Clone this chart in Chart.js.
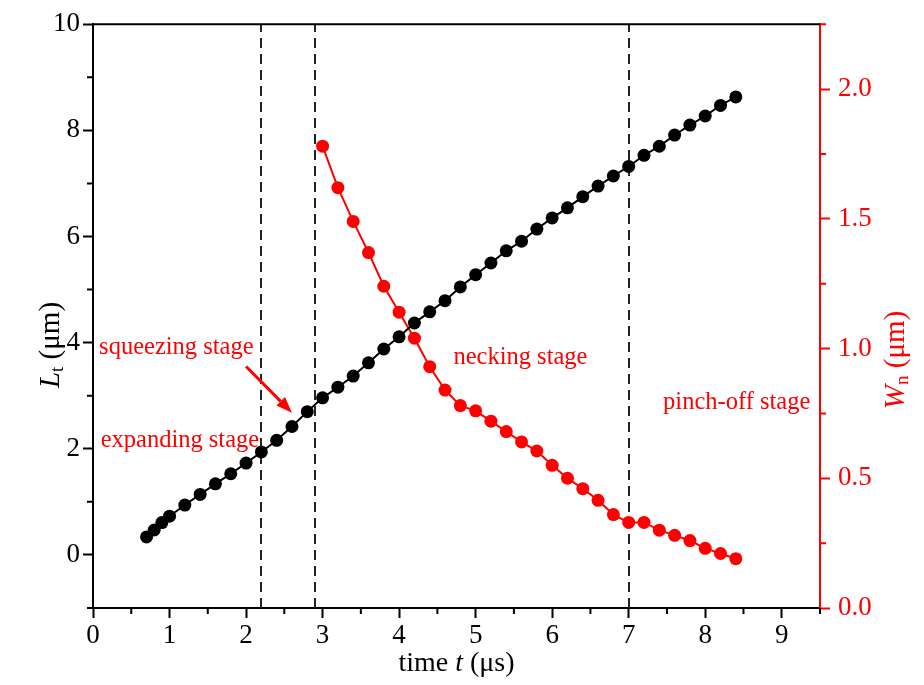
<!DOCTYPE html>
<html>
<head>
<meta charset="utf-8">
<script src="https://cdn.jsdelivr.net/npm/chart.js@4"></script>
<style>
  html, body { margin: 0; padding: 0; background: #fff; }
  #wrap { width: 924px; height: 685px; }
</style>
</head>
<body>
<div id="wrap"><canvas id="chart" width="924" height="685"></canvas></div>
<script>
// time (µs) and thread length L_t (µm)
const timeL = [0.7, 0.8, 0.9, 1.0, 1.2, 1.4, 1.6, 1.8, 2.0, 2.2, 2.4, 2.6, 2.8, 3.0, 3.2, 3.4, 3.6, 3.8,
               4.0, 4.2, 4.4, 4.6, 4.8, 5.0, 5.2, 5.4, 5.6, 5.8, 6.0, 6.2, 6.4, 6.6, 6.8, 7.0, 7.2, 7.4,
               7.6, 7.8, 8.0, 8.2, 8.4];
const lengthL = [0.34, 0.47, 0.61, 0.73, 0.94, 1.14, 1.34, 1.53, 1.73, 1.94, 2.16, 2.42, 2.70, 2.96, 3.16, 3.37, 3.62, 3.88,
                 4.11, 4.37, 4.58, 4.79, 5.05, 5.28, 5.50, 5.73, 5.91, 6.14, 6.35, 6.54, 6.75, 6.95, 7.14, 7.32, 7.53, 7.70,
                 7.91, 8.10, 8.27, 8.47, 8.63];

// time (µs) and neck width W_n (µm)
const timeW = [3.0, 3.2, 3.4, 3.6, 3.8, 4.0, 4.2, 4.4, 4.6, 4.8, 5.0, 5.2, 5.4, 5.6, 5.8, 6.0, 6.2, 6.4,
               6.6, 6.8, 7.0, 7.2, 7.4, 7.6, 7.8, 8.0, 8.2, 8.4];
const widthW = [1.78, 1.62, 1.49, 1.37, 1.24, 1.14, 1.04, 0.93, 0.84, 0.78, 0.76, 0.72, 0.68, 0.64, 0.605, 0.55, 0.50, 0.46,
                0.415, 0.36, 0.33, 0.33, 0.30, 0.28, 0.26, 0.23, 0.21, 0.19];

// axis ticks
const xTicks = [0, 1, 2, 3, 4, 5, 6, 7, 8, 9];
const xMinor = [0.5, 1.5, 2.5, 3.5, 4.5, 5.5, 6.5, 7.5, 8.5, 9.5];
const yLeftTicks = [0, 2, 4, 6, 8, 10];
const yLeftMinor = [-1, 1, 3, 5, 7, 9];
const yRightTicks = [0, 0.5, 1.0, 1.5, 2.0];
const yRightMinor = [0.25, 0.75, 1.25, 1.75, 2.25];

// stage boundaries (µs)
const stageLines = [2.2, 2.9, 7.0];

// stage labels: [text, x (µs), L_t (µm)]
const stageLabels = [
    ['squeezing stage', 0.08, 3.9],
    ['expanding stage', 0.1, 2.16],
    ['necking stage', 4.71, 3.71],
    ['pinch-off stage', 7.45, 2.87]
];
// arrow for the squeezing stage: from / to in (µs, µm)
const squeezeArrow = [[2.0, 3.55], [2.6, 2.68]];

const RED = '#ff0000';
const SERIF = '"Liberation Serif", "Times New Roman", serif';
const TICK_FONT = { family: SERIF, size: 27 };

const toPoints = (xs, ys) => xs.map((x, i) => ({ x: x, y: ys[i] }));
const fixTicks = values => scale => { scale.ticks = values.map(v => ({ value: v })); };

// minor tick marks, frame top line, dashed stage lines
const decorations = {
    id: 'decorations',
    beforeDatasetsDraw(chart) {
        const { ctx, chartArea: a, scales } = chart;
        ctx.save();
        // dashed boundaries
        ctx.strokeStyle = '#222';
        ctx.lineWidth = 2;
        ctx.setLineDash([10, 6]);
        stageLines.forEach(v => {
            const px = Math.round(scales.x.getPixelForValue(v));
            ctx.beginPath();
            ctx.moveTo(px, a.bottom);
            ctx.lineTo(px, a.top);
            ctx.stroke();
        });
        ctx.restore();
    },
    afterDraw(chart) {
        const { ctx, chartArea: a, scales } = chart;
        ctx.save();
        ctx.lineWidth = 2;
        // top frame
        ctx.strokeStyle = '#000';
        ctx.beginPath();
        ctx.moveTo(a.left - 1, a.top);
        ctx.lineTo(a.right, a.top);
        ctx.stroke();
        // minor ticks
        const len = 6;
        ctx.beginPath();
        xMinor.forEach(v => {
            const px = scales.x.getPixelForValue(v);
            ctx.moveTo(px, a.bottom);
            ctx.lineTo(px, a.bottom + len);
        });
        yLeftMinor.forEach(v => {
            const py = scales.y.getPixelForValue(v);
            ctx.moveTo(a.left, py);
            ctx.lineTo(a.left - len, py);
        });
        ctx.stroke();
        ctx.strokeStyle = RED;
        ctx.beginPath();
        yRightMinor.forEach(v => {
            const py = scales.y2.getPixelForValue(v);
            ctx.moveTo(a.right, py);
            ctx.lineTo(a.right + len, py);
        });
        ctx.stroke();

        // stage labels
        ctx.fillStyle = RED;
        ctx.font = '24.5px ' + SERIF;
        ctx.textBaseline = 'middle';
        ctx.textAlign = 'left';
        stageLabels.forEach(([text, x, y]) => {
            ctx.fillText(text, scales.x.getPixelForValue(x), scales.y.getPixelForValue(y));
        });

        // arrow
        const [p0, p1] = squeezeArrow;
        const x0 = scales.x.getPixelForValue(p0[0]), y0 = scales.y.getPixelForValue(p0[1]);
        const x1 = scales.x.getPixelForValue(p1[0]), y1 = scales.y.getPixelForValue(p1[1]);
        const ang = Math.atan2(y1 - y0, x1 - x0);
        const head = 16, half = 6;
        ctx.strokeStyle = RED;
        ctx.lineWidth = 3;
        ctx.beginPath();
        ctx.moveTo(x0, y0);
        ctx.lineTo(x1 - head * Math.cos(ang), y1 - head * Math.sin(ang));
        ctx.stroke();
        ctx.beginPath();
        ctx.moveTo(x1, y1);
        ctx.lineTo(x1 - head * Math.cos(ang) + half * Math.sin(ang), y1 - head * Math.sin(ang) - half * Math.cos(ang));
        ctx.lineTo(x1 - head * Math.cos(ang) - half * Math.sin(ang), y1 - head * Math.sin(ang) + half * Math.cos(ang));
        ctx.closePath();
        ctx.fill();

        // axis titles with italic symbols and subscripts
        drawRich(ctx, [['time ', 'normal', 28, 0], ['t', 'italic', 28, 0], [' (\u03bcs)', 'normal', 28, 0]],
            (a.left + a.right) / 2, 664, 0, '#000');
        drawRich(ctx, [['L', 'italic', 29, 0], ['t', 'normal', 19, 7], [' (\u03bcm)', 'normal', 29, 0]],
            51, 345, -Math.PI / 2, '#000');
        drawRich(ctx, [['W', 'italic', 29, 0], ['n', 'normal', 19, 7], [' (\u03bcm)', 'normal', 29, 0]],
            896, 360, -Math.PI / 2, RED);
        ctx.restore();
    }
};

function drawRich(ctx, parts, cx, cy, rot, color) {
    ctx.save();
    ctx.translate(cx, cy);
    ctx.rotate(rot);
    ctx.fillStyle = color;
    ctx.textBaseline = 'middle';
    ctx.textAlign = 'left';
    let total = 0;
    parts.forEach(([t, style, size]) => {
        ctx.font = `${style} ${size}px ${SERIF}`;
        total += ctx.measureText(t).width;
    });
    let x = -total / 2;
    parts.forEach(([t, style, size, shift]) => {
        ctx.font = `${style} ${size}px ${SERIF}`;
        ctx.fillText(t, x, shift);
        x += ctx.measureText(t).width;
    });
    ctx.restore();
}

new Chart(document.getElementById('chart'), {
    type: 'scatter',
    data: {
        datasets: [
            {
                label: 'Lt',
                data: toPoints(timeL, lengthL),
                yAxisID: 'y',
                showLine: true,
                borderColor: '#000',
                backgroundColor: '#000',
                borderWidth: 2,
                pointRadius: 6.5,
                pointBorderWidth: 0
            },
            {
                label: 'Wn',
                data: toPoints(timeW, widthW),
                yAxisID: 'y2',
                showLine: true,
                borderColor: RED,
                backgroundColor: RED,
                borderWidth: 2,
                pointRadius: 6.5,
                pointBorderWidth: 0
            }
        ]
    },
    options: {
        responsive: false,
        animation: false,
        layout: { padding: { top: 22, left: 0, right: 0, bottom: 0 } },
        plugins: {
            legend: { display: false },
            tooltip: { enabled: false }
        },
        scales: {
            x: {
                type: 'linear',
                position: 'bottom',
                min: 0,
                max: 9.5,
                afterBuildTicks: fixTicks(xTicks),
                afterFit: s => { s.height = 77; },
                grid: { drawOnChartArea: false, drawTicks: true, tickLength: 10, tickWidth: 2, color: '#000' },
                border: { display: true, color: '#000', width: 2 },
                ticks: { font: TICK_FONT, color: '#000', padding: 2, maxRotation: 0, autoSkip: false }
            },
            y: {
                type: 'linear',
                position: 'left',
                min: -1,
                max: 10,
                afterBuildTicks: fixTicks(yLeftTicks),
                afterFit: s => { s.width = 93; },
                grid: { drawOnChartArea: false, drawTicks: true, tickLength: 10, tickWidth: 2, color: '#000' },
                border: { display: true, color: '#000', width: 2 },
                ticks: { font: TICK_FONT, color: '#000', padding: 3, autoSkip: false }
            },
            y2: {
                type: 'linear',
                position: 'right',
                min: 0,
                max: 2.25,
                afterBuildTicks: fixTicks(yRightTicks),
                afterFit: s => { s.width = 104; },
                grid: { drawOnChartArea: false, drawTicks: true, tickLength: 10, tickWidth: 2, color: RED },
                border: { display: true, color: RED, width: 2 },
                ticks: { font: TICK_FONT, color: RED, padding: 8, autoSkip: false,
                         callback: v => v.toFixed(1) }
            }
        }
    },
    plugins: [decorations]
});
</script>
</body>
</html>
